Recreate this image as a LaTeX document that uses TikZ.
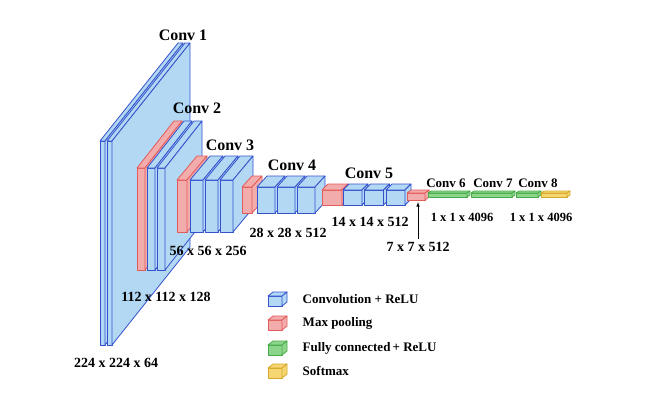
\documentclass[tikz,border=0pt]{standalone}
\usepackage{fontspec}
\setmainfont{Liberation Serif}
\usepackage{tikz}
\usetikzlibrary{arrows}
\definecolor{convfill}{RGB}{178,216,244}
\definecolor{convdraw}{RGB}{52,82,205}
\definecolor{poolfill}{RGB}{243,172,172}
\definecolor{pooldraw}{RGB}{226,92,92}
\definecolor{fcfill}{RGB}{140,214,140}
\definecolor{fcdraw}{RGB}{72,170,72}
\definecolor{smfill}{RGB}{246,214,112}
\definecolor{smdraw}{RGB}{214,168,42}
\tikzstyle{conv}=[fill=convfill,draw=convdraw]
\tikzstyle{pool}=[fill=poolfill,draw=pooldraw]
\tikzstyle{fc}=[fill=fcfill,draw=fcdraw]
\tikzstyle{soft}=[fill=smfill,draw=smdraw]
% #1 style, #2 x, #3 top, #4 width, #5 height, #6 #7 depth offset
\newcommand{\cuboid}[7][conv]{%
  \filldraw[#1] (#2,#3) rectangle ++(#4,#5);
  \filldraw[#1] (#2,#3) -- ++(#6,-#7) -- ++(#4,0) -- ++(-#6,#7) -- cycle;
  \filldraw[#1] (#2+#4,#3) -- ++(#6,-#7) -- ++(0,#5) -- ++(-#6,#7) -- cycle;
}

\begin{document}
\begin{tikzpicture}[x=1pt,y=-1pt,line width=0.8pt,line join=round]

\tikzstyle{convlbl}=[font=\fontsize{16}{18}\selectfont\bfseries]
\tikzstyle{fclbl}=[font=\fontsize{13}{15}\selectfont\bfseries]
\tikzstyle{dimlbl}=[font=\fontsize{14}{16}\selectfont\bfseries]
\tikzstyle{smalldim}=[font=\fontsize{12.5}{15}\selectfont\bfseries]
\tikzstyle{legend}=[anchor=west,font=\fontsize{13}{15}\selectfont\bfseries]
\tikzstyle{arrow}=[-latex,line width=0.6pt]

\useasboundingbox (0,0) rectangle (647,408);

% conv 1
\foreach \x in {100,107} {\cuboid{\x}{141}{5}{204}{78}{98}}
% conv 2
\cuboid[pool]{137}{168}{8}{102}{37}{47}
\foreach \x in {147,157} {\cuboid{\x}{168}{8}{102}{37}{47}}
% conv 3
\cuboid[pool]{177}{180}{10}{52}{20}{24}
\foreach \x in {190,205,220} {\cuboid{\x}{180}{13}{52}{20}{24}}
% conv 4
\cuboid[pool]{242}{187}{10}{26}{10}{11}
\foreach \x in {257,277,297} {\cuboid{\x}{187}{18}{26}{10}{11}}
% conv 5
\cuboid[pool]{322}{190}{20}{15}{6}{6}
\foreach \x in {343,364.5,386} {\cuboid{\x}{190}{19}{15}{6}{6}}
% pool 5 + fully connected
\cuboid[pool]{407}{193}{18}{7}{4}{3}
\cuboid[fc]{428}{193}{39}{4}{3}{2}
\cuboid[fc]{471}{193}{41}{4}{3}{2}
\cuboid[fc]{516}{193}{22}{4}{3}{2}
\cuboid[soft]{541}{193}{26}{4}{3}{2}
\coordinate (p5) at (418,202);

\node (c1) [convlbl] at (183,35) {Conv 1};
\node (c2) [convlbl] at (197,108) {Conv 2};
\node (c3) [convlbl] at (230,145) {Conv 3};
\node (c4) [convlbl] at (292,165) {Conv 4};
\node (c5) [convlbl] at (369,173) {Conv 5};
\node (c6) [fclbl] at (446,183) {Conv 6};
\node (c7) [fclbl] at (493,183) {Conv 7};
\node (c8) [fclbl] at (538,183) {Conv 8};

\node (d1) [dimlbl] at (116,363) {224 x 224 x 64};
\node (d2) [dimlbl] at (166,297) {112 x 112 x 128};
\node (d3) [dimlbl] at (208,251) {56 x 56 x 256};
\node (d4) [dimlbl] at (288,233) {28 x 28 x 512};
\node (d5) [dimlbl] at (370,222) {14 x 14 x 512};
\node (d7) [dimlbl] at (418,247) {7 x 7 x 512};
\node (d6) [smalldim] at (462,217) {1 x 1 x 4096};
\node (d8) [smalldim] at (541,217) {1 x 1 x 4096};

\draw [arrow] (d7) -- (p5);

% legend
\cuboid{268}{296}{14}{10}{5}{4}
\cuboid[pool]{268}{320}{14}{10}{5}{4}
\cuboid[fc]{268}{345}{14}{10}{5}{4}
\cuboid[soft]{268}{368}{14}{10}{5}{4}
\node (l1) [legend] at (299,299) {Convolution + ReLU};
\node (l2) [legend] at (299,323) {Max pooling};
\node (l3) [legend] at (299,348) {Fully connected\,+ ReLU};
\node (l4) [legend] at (299,371) {Softmax};

\end{tikzpicture}
\end{document}
